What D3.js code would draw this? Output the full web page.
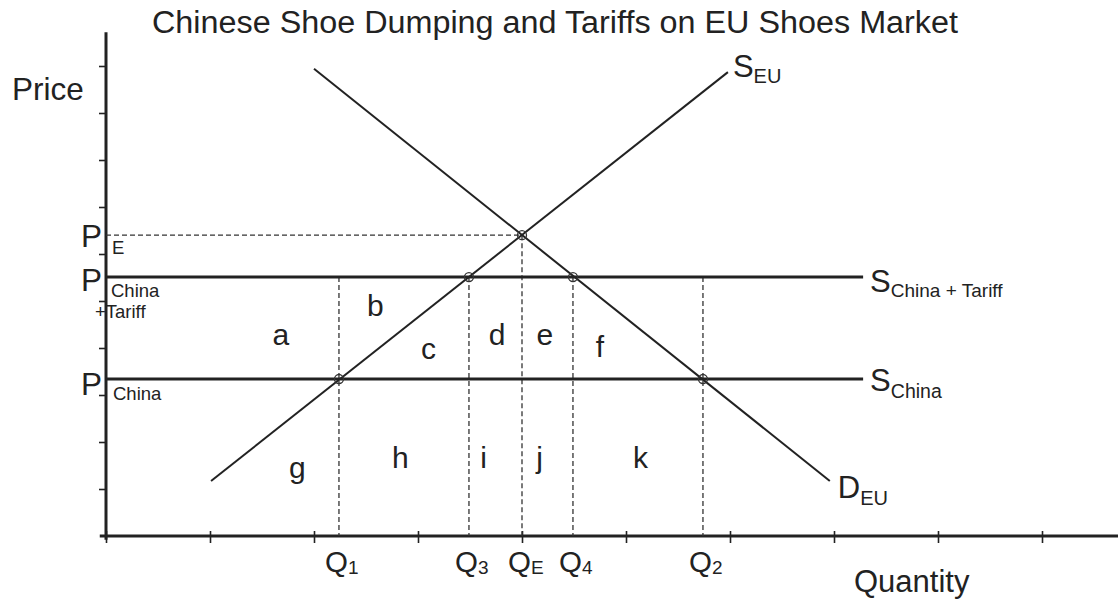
<!DOCTYPE html>
<html>
<head>
<meta charset="utf-8">
<script src="https://cdn.jsdelivr.net/npm/d3@7"></script>
<style>
  body { margin: 0; background: #fff; }
  svg { display: block; font-family: "Liberation Sans", Arial, Helvetica, sans-serif; }
</style>
</head>
<body>
<div id="chart"></div>
<script>
// ── data (quantity / price units) ──
const title = "Chinese Shoe Dumping and Tariffs on EU Shoes Market";
const qNames = ["1", "3", "E", "4", "2"];
const qValues = [2.24, 3.49, 4.0, 4.49, 5.74];
const pE = 6.4, pTariff = 5.51, pChina = 3.34;
const supplyEU = [[1.01, 1.17], [5.98, 9.87]];
const demandEU = [[2.0, 9.94], [6.96, 1.17]];
const flatEnd = 7.28;
const areaNames = ["a", "b", "c", "d", "e", "f", "g", "h", "i", "j", "k"];
const areaQ = [1.68, 2.59, 3.1, 3.76, 4.22, 4.75, 1.84, 2.83, 3.63, 4.17, 5.14];
const areaP = [4.06, 4.68, 3.77, 4.06, 4.06, 3.81, 1.23, 1.45, 1.45, 1.45, 1.45];
const xTicks = d3.range(0, 10);
const yTicks = d3.range(1, 11);

const W = 1118, H = 603, ink = "#222";
const svg = d3.select("#chart").append("svg").attr("width", W).attr("height", H);
const x = d3.scaleLinear().domain([0, 10]).range([106, 1146]);
const y = d3.scaleLinear().domain([0, 11]).range([536, 19]);

// title + axis names
svg.append("text").attr("x", 152).attr("y", 33).attr("font-size", 31)
  .attr("textLength", 806).attr("lengthAdjust", "spacingAndGlyphs").attr("fill", ink).text(title);
svg.append("text").attr("x", 12).attr("y", 100).attr("font-size", 31.5).attr("fill", ink).text("Price");
svg.append("text").attr("x", 854).attr("y", 592).attr("font-size", 31).attr("fill", ink).text("Quantity");

// axes
const xAx = svg.append("g").attr("transform", `translate(0,${y(0)})`)
  .call(d3.axisBottom(x).tickValues(xTicks).tickFormat(""));
xAx.select(".domain").remove();
xAx.selectAll(".tick line").attr("y1", -5).attr("y2", 7).attr("stroke", ink).attr("stroke-width", 1.6);
const yAx = svg.append("g").attr("transform", `translate(${x(0)},0)`)
  .call(d3.axisLeft(y).tickValues(yTicks).tickSize(7).tickFormat(""));
yAx.select(".domain").remove();
yAx.selectAll(".tick line").attr("stroke", ink).attr("stroke-width", 1.6);

svg.append("line").attr("x1", x(-0.06)).attr("x2", W).attr("y1", y(0)).attr("y2", y(0))
  .attr("stroke", ink).attr("stroke-width", 3);
svg.append("line").attr("x1", x(0)).attr("x2", x(0)).attr("y1", y(-0.08)).attr("y2", y(10.72))
  .attr("stroke", ink).attr("stroke-width", 3);

// dashed guides
const dash = (x1, y1, x2, y2) => svg.append("line")
  .attr("x1", x1).attr("y1", y1).attr("x2", x2).attr("y2", y2)
  .attr("stroke", "#333").attr("stroke-width", 1.3).attr("stroke-dasharray", "5,3");
dash(x(0), y(pE), x(qValues[2]), y(pE));
qValues.forEach((q, i) => dash(x(q), i === 2 ? y(pE) : y(pTariff), x(q), y(0)));

// supply with tariff and world supply
[pTariff, pChina].forEach(p => svg.append("line")
  .attr("x1", x(0)).attr("x2", x(flatEnd)).attr("y1", y(p)).attr("y2", y(p))
  .attr("stroke", ink).attr("stroke-width", 3));

// EU supply and demand
const line = d3.line().x(d => x(d[0])).y(d => y(d[1]));
[supplyEU, demandEU].forEach(d => svg.append("path").attr("d", line(d))
  .attr("fill", "none").attr("stroke", ink).attr("stroke-width", 2));

// intersection circles
const pts = [[qValues[0], pChina], [qValues[1], pTariff], [qValues[2], pE], [qValues[3], pTariff], [qValues[4], pChina]];
svg.selectAll(".pt").data(pts).enter().append("circle").attr("class", "pt")
  .attr("cx", d => x(d[0])).attr("cy", d => y(d[1])).attr("r", 4.5)
  .attr("fill", "none").attr("stroke", "#333").attr("stroke-width", 1.3);

// labels with subscripts
function label(px, py, big, small, bigSize, smallSize, dy) {
  const t = svg.append("text").attr("x", px).attr("y", py).attr("fill", ink);
  t.append("tspan").attr("font-size", bigSize).text(big);
  t.append("tspan").attr("font-size", smallSize).attr("dy", dy).text(small);
  return t;
}
qValues.forEach((q, i) => label(x(q) - 14, 572, "Q", qNames[i], 29.5, 19, 2));

const sEnd = supplyEU[1], dEnd = demandEU[1];
label(x(sEnd[0]) + 5, y(sEnd[1]) + 5, "S", "EU", 31, 20, 6);
label(x(dEnd[0]) + 8, y(dEnd[1]) + 17, "D", "EU", 31, 20, 7);
label(x(flatEnd) + 7, y(pTariff) + 15, "S", "China + Tariff", 31, 19, 5);
label(x(flatEnd) + 7, y(pChina) + 12, "S", "China", 31, 19.5, 7);

// price labels on the axis
const sub = (px, py, s) => svg.append("text").attr("x", px).attr("y", py)
  .attr("font-size", 18.5).attr("fill", ink).text(s);
const bigP = py => svg.append("text").attr("x", 81).attr("y", py)
  .attr("font-size", 31.5).attr("fill", ink).text("P");
bigP(y(pE) + 12); sub(112, y(pE) + 19, "E");
bigP(y(pTariff) + 14); sub(111, y(pTariff) + 20, "China"); sub(95, y(pTariff) + 41, "+Tariff");
bigP(y(pChina) + 16); sub(113, y(pChina) + 21, "China");

// area letters
svg.selectAll(".area").data(areaNames).enter().append("text").attr("class", "area")
  .attr("x", (d, i) => x(areaQ[i])).attr("y", (d, i) => y(areaP[i]))
  .attr("text-anchor", "middle").attr("font-size", 30).attr("fill", ink).text(d => d);
</script>
</body>
</html>
